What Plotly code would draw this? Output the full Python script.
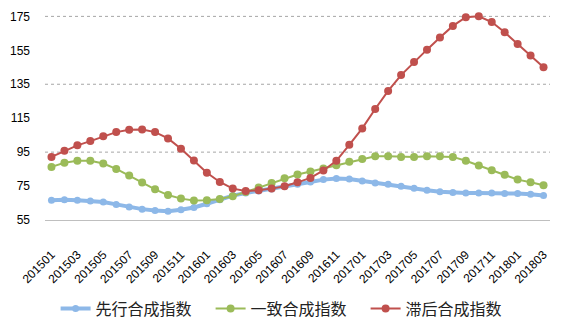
import plotly.graph_objects as go

# Monthly periods 2015-01 .. 2018-03
months = [f"{y}{m:02d}" for y in (2015, 2016, 2017) for m in range(1, 13)] + ["201801", "201802", "201803"]

leading = [66.6, 67.0, 66.6, 66.2, 65.6, 64.2, 62.6, 61.4, 60.6, 60.2, 61.0, 62.4,
           64.6, 67.0, 69.4, 70.9, 72.1, 73.3, 74.9, 76.1, 77.4, 78.8, 79.4, 79.2,
           78.0, 76.8, 76.1, 74.9, 73.7, 72.5, 71.7, 71.2, 70.9, 70.9, 70.9, 70.6,
           70.6, 70.2, 69.4]

coincident = [86.3, 88.7, 89.9, 89.9, 88.3, 85.1, 81.2, 77.1, 73.1, 69.7, 67.6, 66.5,
              66.6, 67.4, 69.0, 71.5, 74.1, 76.8, 79.6, 81.8, 83.6, 85.4, 87.3, 89.3,
              91.0, 92.6, 92.6, 92.2, 92.2, 92.6, 92.6, 92.2, 89.9, 87.1, 84.3, 81.6,
              78.8, 77.2, 75.5]

lagging = [92.2, 95.8, 99.0, 101.5, 104.3, 106.8, 108.2, 108.4, 106.8, 103.1, 97.0, 90.0,
           82.8, 77.4, 73.5, 72.1, 72.5, 73.5, 74.9, 77.2, 79.8, 84.2, 89.9, 99.3,
           109.0, 120.4, 131.1, 140.4, 148.1, 155.4, 162.5, 169.4, 174.5, 175.1, 171.7,
           165.6, 158.7, 152.0, 145.1]

series_names = ["先行合成指数", "一致合成指数", "滞后合成指数"]
y_ticks = [55, 75, 95, 115, 135, 155, 175]
grid_levels = [95, 135, 175]
x_ticks = months[::2]

colors = ["#8DB8E8", "#9BBB59", "#C0504D"]
line_widths = [4, 2, 2]
marker_sizes = [7, 8, 8]

fig = go.Figure()
for name, vals, col, lw, ms in zip(series_names, [leading, coincident, lagging],
                                   colors, line_widths, marker_sizes):
    fig.add_trace(go.Scatter(
        x=months, y=vals, name=name, mode="lines+markers",
        line=dict(color=col, width=lw),
        marker=dict(color=col, size=ms),
        cliponaxis=False,
    ))

# dotted horizontal guides every 40 units
for g in grid_levels:
    fig.add_shape(type="line", xref="paper", x0=0, x1=1, yref="y", y0=g, y1=g,
                  line=dict(color="#A6A6A6", width=1, dash="dot"), layer="between")

fig.update_layout(
    template="none",
    width=565, height=331,
    margin=dict(l=44.5, r=15, t=13.3, b=111.4),
    paper_bgcolor="white", plot_bgcolor="white",
    font=dict(family="Liberation Sans, Arial, sans-serif", size=12, color="#000000"),
    showlegend=True,
    legend=dict(
        orientation="h", x=0.021, xanchor="left",
        yref="container", y=0.068, yanchor="middle",
        font=dict(family="Noto Sans CJK SC", size=16, color="#222222"),
        entrywidth=110, entrywidthmode="pixels",
        itemwidth=30, bgcolor="rgba(0,0,0,0)",
    ),
)
fig.update_xaxes(
    type="category", range=[-0.5, 38.5], automargin=False,
    tickmode="array", tickvals=x_ticks, ticktext=x_ticks,
    tickangle=-45, showgrid=False, ticks="",
    showline=True, linecolor="#BFBFBF", linewidth=1,
    ticklabelstandoff=22,
    tickfont=dict(size=12),
)
fig.update_yaxes(
    range=[55, 177], automargin=False, tickmode="array", tickvals=y_ticks,
    showgrid=False, zeroline=False, showline=False, ticks="",
    ticklabelstandoff=14,
    tickfont=dict(size=12),
)

fig.write_html("out.html")
